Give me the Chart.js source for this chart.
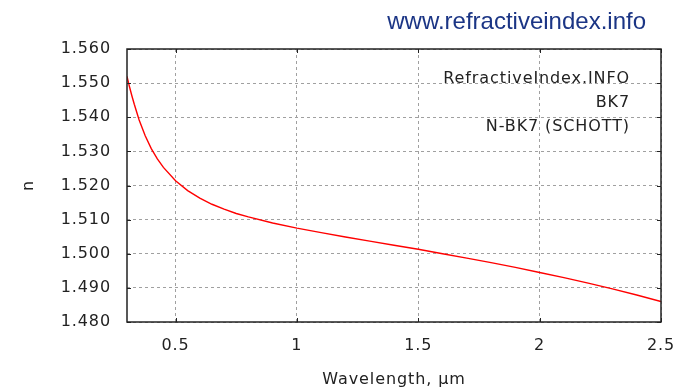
<!DOCTYPE html>
<html>
<head>
<meta charset="utf-8">
<title>N-BK7 refractive index</title>
<script src="https://cdn.jsdelivr.net/npm/chart.js@4/dist/chart.umd.min.js"></script>
<style>
  html, body { margin: 0; padding: 0; background: #fff; }
  #wrap { position: relative; width: 682px; height: 389px; }
</style>
</head>
<body>
<div id="wrap"><canvas id="chart" width="682" height="389"></canvas></div>
<script>
// N-BK7 (SCHOTT) dispersion, wavelength in µm
const wavelengths = [0.30, 0.31, 0.32, 0.33, 0.35, 0.375, 0.40, 0.425, 0.45, 0.50, 0.55, 0.60, 0.65, 0.70, 0.75,
    0.80, 0.90, 1.00, 1.10, 1.20, 1.30, 1.40, 1.50, 1.60, 1.70, 1.80, 1.90, 2.00, 2.10, 2.20, 2.30, 2.40, 2.50];
const refractiveIndex = [1.5520, 1.5490, 1.5463, 1.5438, 1.5392, 1.5346, 1.5308, 1.5278, 1.5253, 1.5214, 1.5185,
    1.5163, 1.5145, 1.5131, 1.5118, 1.5108, 1.5090, 1.5075, 1.5062, 1.5049, 1.5037, 1.5025, 1.5013, 1.5000,
    1.4987, 1.4974, 1.4960, 1.4945, 1.4930, 1.4914, 1.4897, 1.4879, 1.4860];

const xTicks = [0.5, 1, 1.5, 2, 2.5];
const yTicks = [1.48, 1.49, 1.50, 1.51, 1.52, 1.53, 1.54, 1.55, 1.56];
const infoLines = ['RefractiveIndex.INFO', 'BK7', 'N-BK7 (SCHOTT)'];
const siteLabel = 'www.refractiveindex.info';

const FONT = "'DejaVu Sans', sans-serif";
const SPACING = '0.9px';

// frame, mirrored inner ticks, info text and site label
const decorations = {
    id: 'decorations',
    beforeDraw(chart) {
        chart.ctx.letterSpacing = SPACING;
    },
    afterDraw(chart) {
        const { ctx, chartArea: a, scales: { x, y } } = chart;
        ctx.save();
        ctx.setLineDash([]);
        ctx.strokeStyle = '#222';
        ctx.lineWidth = 1;
        ctx.beginPath();
        xTicks.forEach(v => {
            const px = Math.round(x.getPixelForValue(v)) + 0.5;
            ctx.moveTo(px, a.bottom); ctx.lineTo(px, a.bottom - 4);
            ctx.moveTo(px, a.top); ctx.lineTo(px, a.top + 4);
        });
        yTicks.forEach(v => {
            const py = Math.round(y.getPixelForValue(v)) + 0.5;
            ctx.moveTo(a.left, py); ctx.lineTo(a.left + 4, py);
            ctx.moveTo(a.right, py); ctx.lineTo(a.right - 4, py);
        });
        ctx.stroke();

        ctx.lineWidth = 1.5;
        ctx.strokeRect(a.left, a.top, a.right - a.left, a.bottom - a.top);

        ctx.fillStyle = '#222';
        ctx.font = '16px ' + FONT;
        ctx.textAlign = 'right';
        ctx.textBaseline = 'alphabetic';
        ctx.letterSpacing = SPACING;
        infoLines.forEach((t, i) => ctx.fillText(t, 630, 83 + i * 24));

        ctx.letterSpacing = '0px';
        ctx.fillStyle = '#1b3585';
        ctx.font = "24px 'Liberation Sans', Arial, sans-serif";
        ctx.fillText(siteLabel, 646, 29);
        ctx.restore();
    }
};

new Chart(document.getElementById('chart'), {
    type: 'line',
    data: {
        datasets: [{
            data: wavelengths.map((w, i) => ({ x: w, y: refractiveIndex[i] })),
            borderColor: '#ff0000',
            borderWidth: 1.4,
            pointRadius: 0,
            tension: 0,
            fill: false
        }]
    },
    options: {
        responsive: false,
        animation: false,
        layout: { padding: { top: 49, right: 21, left: 0, bottom: 0 } },
        plugins: {
            legend: { display: false },
            tooltip: { enabled: false }
        },
        scales: {
            x: {
                type: 'linear',
                min: 0.3,
                max: 2.5,
                afterBuildTicks: s => { s.ticks = xTicks.map(v => ({ value: v })); },
                afterFit: s => { s.height = 67; s.paddingLeft = 0; s.paddingRight = 0; },
                grid: { color: '#a0a0a0', lineWidth: 1, drawTicks: false },
                border: { display: false, dash: [3, 3] },
                ticks: {
                    padding: 14,
                    color: '#222',
                    font: { family: FONT, size: 16 },
                    maxRotation: 0,
                    callback: v => String(v)
                },
                title: {
                    display: true,
                    text: 'Wavelength, µm',
                    color: '#222',
                    font: { family: FONT, size: 16 },
                    padding: { top: 0, bottom: 0 }
                }
            },
            y: {
                min: 1.48,
                max: 1.56,
                afterBuildTicks: s => { s.ticks = yTicks.map(v => ({ value: v })); },
                afterFit: s => { s.width = 127; s.paddingTop = 0; s.paddingBottom = 0; },
                grid: { color: '#a0a0a0', lineWidth: 1, drawTicks: false },
                border: { display: false, dash: [3, 3] },
                ticks: {
                    padding: 16,
                    color: '#222',
                    font: { family: FONT, size: 16 },
                    callback: v => v.toFixed(3)
                },
                title: {
                    display: true,
                    text: 'n',
                    color: '#222',
                    font: { family: FONT, size: 16 },
                    padding: { top: 19, bottom: 0 }
                }
            }
        }
    },
    plugins: [decorations]
});
</script>
</body>
</html>
